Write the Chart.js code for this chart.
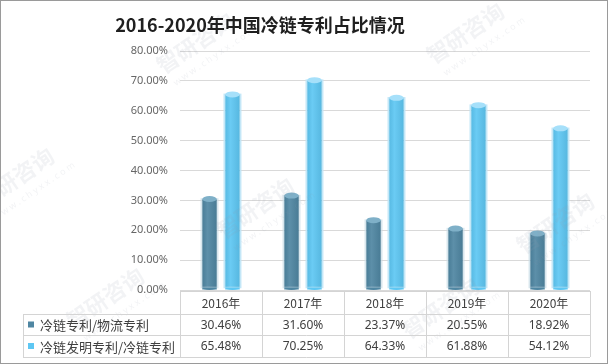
<!DOCTYPE html>
<html>
<head>
<meta charset="utf-8">
<script src="https://cdn.jsdelivr.net/npm/chart.js@4/dist/chart.umd.min.js"></script>
<style>
  html, body { margin: 0; padding: 0; background: #fff; }
  #wrap { width: 608px; height: 364px; }
</style>
</head>
<body>
<div id="wrap"><canvas id="shareChart" width="608" height="364"></canvas></div>
<script>
// data
const years = ["2016年", "2017年", "2018年", "2019年", "2020年"];
const seriesNames = ["冷链专利/物流专利", "冷链发明专利/冷链专利"];
const logisticsShare = [30.46, 31.60, 23.37, 20.55, 18.92];
const inventionShare = [65.48, 70.25, 64.33, 61.88, 54.12];
const yMax = 80;
const yStep = 10;

const titleText = "2016-2020年中国冷链专利占比情况";
const barColors = ["#4f86a2", "#5ec7f3"];
const capColors = ["#7fb0c8", "#a6e0fa"];
const fontFamily = "'Noto Sans', 'Noto Sans CJK SC', sans-serif";
const cjkFont = "'Noto Sans CJK SC', 'Noto Sans', sans-serif";

const pct = v => v.toFixed(2) + "%";

// title, border, watermark, cylinder caps and data table
const extras = {
  id: "extras",
  beforeDraw(chart) {
    const c = chart.ctx;
    c.save();
    c.fillStyle = "#fff";
    c.fillRect(0, 0, chart.width, chart.height);
    c.restore();
  },
  afterDatasetsDraw(chart) {
    const c = chart.ctx;
    chart.data.datasets.forEach((ds, di) => {
      const meta = chart.getDatasetMeta(di);
      meta.data.forEach(bar => {
        const w = bar.width, x = bar.x, top = bar.y, base = bar.base;
        c.save();
        // outline glow
        c.strokeStyle = di === 1 ? "rgba(190,228,246,0.9)" : "rgba(200,220,230,0.7)";
        c.lineWidth = 1.5;
        c.strokeRect(x - w / 2 - 1, top, w + 2, base - top - 2);
        // shading
        const g = c.createLinearGradient(x - w / 2, 0, x + w / 2, 0);
        g.addColorStop(0, "rgba(0,0,0,0.06)");
        g.addColorStop(0.35, "rgba(255,255,255,0.08)");
        g.addColorStop(1, "rgba(0,0,0,0.08)");
        c.fillStyle = g;
        c.fillRect(x - w / 2, top, w, base - top - 2);
        // bottom rounding
        c.fillStyle = barColors[di];
        c.beginPath();
        c.ellipse(x, base - 2, w / 2, 2.5, 0, 0, Math.PI);
        c.fill();
        // top cap
        c.fillStyle = capColors[di];
        c.beginPath();
        c.ellipse(x, top, w / 2, 3, 0, 0, Math.PI * 2);
        c.fill();
        c.restore();
      });
    });
  },
  afterDraw(chart) {
    const c = chart.ctx;
    const area = chart.chartArea;
    const xs = chart.scales.x;
    const n = years.length;
    const cw = (area.right - area.left) / n;

    // watermarks
    c.save();
    c.fillStyle = "rgba(150,160,175,0.12)";
    [[200, 50], [470, 40], [20, 185], [260, 215], [560, 230], [110, 305], [445, 315]].forEach(p => {
      c.save();
      c.translate(p[0], p[1]);
      c.rotate(-0.6);
      c.font = "bold 22px " + cjkFont;
      c.textAlign = "center";
      c.fillText("智研咨询", 0, 0);
      c.font = "9px " + fontFamily;
      c.fillText("w w w . c h y x x . c o m", 8, 16);
      c.restore();
    });
    c.restore();

    // title
    c.save();
    c.fillStyle = "#1f1f1f";
    c.font = "bold 18px " + cjkFont;
    c.textAlign = "center";
    c.textBaseline = "middle";
    c.fillText(titleText, 260, 25);
    c.restore();

    // data table
    const tTop = area.bottom + 1;
    const r1 = 314, r2 = 335, tBot = 357;
    const left = 23;
    c.save();
    c.strokeStyle = "#d4d4d4";
    c.lineWidth = 1;
    c.beginPath();
    c.moveTo(area.left, tTop + 0.5); c.lineTo(area.right, tTop + 0.5);
    [r1, r2, tBot].forEach(y => { c.moveTo(left, y + 0.5); c.lineTo(area.right, y + 0.5); });
    for (let i = 0; i <= n; i++) {
      const x = Math.round(area.left + i * cw) + 0.5;
      c.moveTo(x, tTop); c.lineTo(x, tBot);
    }
    c.moveTo(left + 0.5, r1); c.lineTo(left + 0.5, tBot);
    c.stroke();

    c.textAlign = "center";
    c.textBaseline = "middle";
    c.fillStyle = "#404040";
    years.forEach((y, i) => {
      const x = xs.getPixelForValue(i);
      c.font = "12px " + cjkFont;
      c.fillText(y, x, (tTop + r1) / 2 + 1);
      c.font = "12px " + fontFamily;
      c.fillText(pct(logisticsShare[i]), x, (r1 + r2) / 2 + 1);
      c.fillText(pct(inventionShare[i]), x, (r2 + tBot) / 2 + 1);
    });

    // legend keys
    c.textAlign = "left";
    c.font = "13px " + cjkFont;
    [[r1, r2], [r2, tBot]].forEach((row, i) => {
      const cy = (row[0] + row[1]) / 2;
      c.fillStyle = barColors[i];
      c.fillRect(28, cy - 3, 6, 6);
      c.fillStyle = "#404040";
      c.fillText(seriesNames[i], 40, cy + 1);
    });

    // outer frame
    c.strokeStyle = "#9a9a9a";
    c.lineWidth = 1;
    c.strokeRect(0.5, 0.5, chart.width - 1, chart.height - 1);
    c.restore();
  }
};

new Chart(document.getElementById("shareChart"), {
  type: "bar",
  data: {
    labels: years,
    datasets: [{
      label: seriesNames[0],
      data: logisticsShare,
      backgroundColor: barColors[0],
      categoryPercentage: 0.56,
      barPercentage: 0.63
    }, {
      label: seriesNames[1],
      data: inventionShare,
      backgroundColor: barColors[1],
      categoryPercentage: 0.56,
      barPercentage: 0.63
    }]
  },
  options: {
    responsive: false,
    animation: false,
    layout: { padding: { top: 51, bottom: 74, right: 18, left: 0 } },
    plugins: { legend: { display: false }, title: { display: false }, tooltip: { enabled: false } },
    scales: {
      x: { display: false },
      y: {
        min: 0,
        max: yMax,
        ticks: {
          stepSize: yStep,
          padding: 12,
          color: "#666666",
          font: { size: 11, family: fontFamily },
          callback: v => pct(v)
        },
        grid: { color: "#d9d9d9", drawTicks: false },
        border: { display: false },
        afterFit: s => { s.width = 180; }
      }
    }
  },
  plugins: [extras]
});
</script>
</body>
</html>
